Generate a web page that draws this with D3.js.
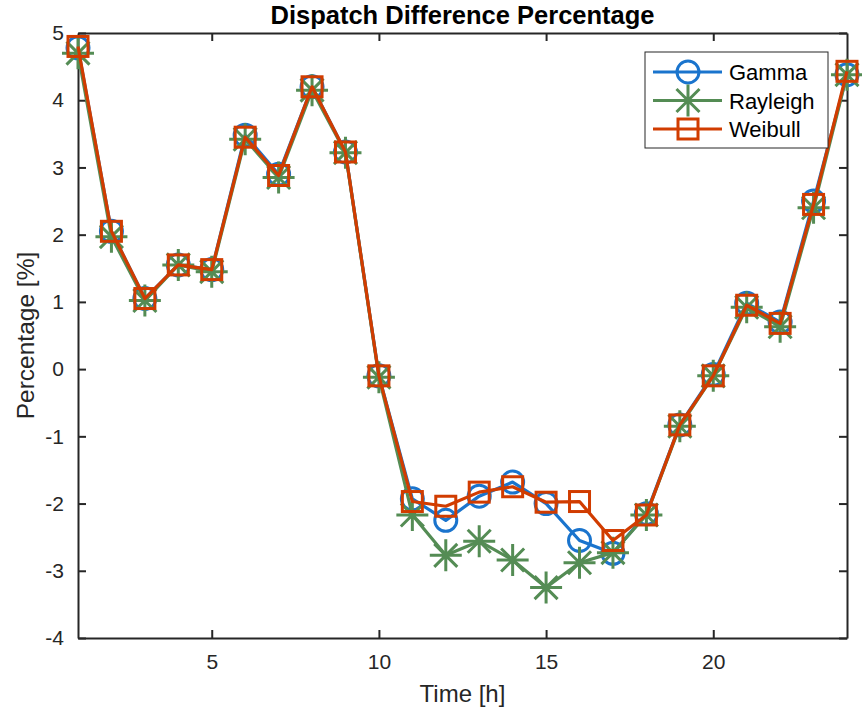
<!DOCTYPE html>
<html>
<head>
<meta charset="utf-8">
<script src="https://cdn.jsdelivr.net/npm/d3@7"></script>
<style>
  body { margin: 0; background: #fff; }
  svg { display: block; font-family: "Liberation Sans", Arial, Helvetica, sans-serif; }
</style>
</head>
<body>
<div id="chart"></div>
<script>
// hours 1..24
const hours = d3.range(1, 25);

const gamma = [4.78, 2.05, 1.05, 1.55, 1.48, 3.48, 2.9, 4.2, 3.23, -0.1,
  -1.93, -2.25, -1.89, -1.68, -2.0, -2.55, -2.74, -2.15, -0.83, -0.08,
  0.98, 0.7, 2.5, 4.38];
const rayleigh = [4.7, 1.97, 1.02, 1.55, 1.45, 3.42, 2.85, 4.15, 3.22, -0.12,
  -2.17, -2.77, -2.56, -2.84, -3.25, -2.88, -2.73, -2.17, -0.85, -0.1,
  0.92, 0.63, 2.4, 4.38];
const weibull = [4.8, 2.05, 1.05, 1.55, 1.48, 3.45, 2.88, 4.2, 3.23, -0.1,
  -1.97, -2.04, -1.83, -1.75, -1.98, -1.97, -2.55, -2.17, -0.83, -0.1,
  0.95, 0.68, 2.45, 4.43];

const xTicks = [5, 10, 15, 20];
const yTicks = [-4, -3, -2, -1, 0, 1, 2, 3, 4, 5];

const series = [
  { name: "Gamma", values: gamma, color: "#1a74cd", marker: "circle" },
  { name: "Rayleigh", values: rayleigh, color: "#548c54", marker: "star" },
  { name: "Weibull", values: weibull, color: "#d13c00", marker: "square" }
];

const W = 862, H = 715;
const margin = { top: 33, right: 15, bottom: 77, left: 78 };
const width = W - margin.left - margin.right;
const height = H - margin.top - margin.bottom;

const svg = d3.select("#chart").append("svg")
  .attr("width", W)
  .attr("height", H);

const g = svg.append("g")
  .attr("transform", `translate(${margin.left},${margin.top})`);

const x = d3.scaleLinear().domain([1, 24]).range([0, width]);
const y = d3.scaleLinear().domain([-4, 5]).range([height, 0]);

const axisColor = "#262626";
const tickLen = 8;
const plain = d => String(d); // hyphen minus like the original

// axes with inward ticks on all four sides
const xAxis = g.append("g")
  .attr("transform", `translate(0,${height})`)
  .call(d3.axisBottom(x).tickValues(xTicks).tickFormat(plain).tickSizeInner(-tickLen).tickSizeOuter(0).tickPadding(16));
const xTop = g.append("g")
  .call(d3.axisTop(x).tickValues(xTicks).tickSizeInner(-tickLen).tickSizeOuter(0).tickFormat(""));
const yAxis = g.append("g")
  .call(d3.axisLeft(y).tickValues(yTicks).tickFormat(plain).tickSizeInner(-tickLen).tickSizeOuter(0).tickPadding(14));
const yRight = g.append("g")
  .attr("transform", `translate(${width},0)`)
  .call(d3.axisRight(y).tickValues(yTicks).tickSizeInner(-tickLen).tickSizeOuter(0).tickFormat(""));

[xAxis, xTop, yAxis, yRight].forEach(a => {
  a.select(".domain").attr("stroke", axisColor).attr("stroke-width", 2);
  a.selectAll(".tick line").attr("stroke", axisColor).attr("stroke-width", 2);
  a.selectAll(".tick text").attr("fill", axisColor).style("font-size", "21px");
});

// series
const line = d3.line()
  .x((d, i) => x(hours[i]))
  .y(d => y(d));

function drawMarker(sel, type, color) {
  if (type === "circle") {
    sel.append("circle").attr("r", 11)
      .attr("fill", "none").attr("stroke", color).attr("stroke-width", 3);
  } else if (type === "square") {
    sel.append("rect").attr("x", -10).attr("y", -10).attr("width", 20).attr("height", 20)
      .attr("fill", "none").attr("stroke", color).attr("stroke-width", 3);
  } else {
    const r = 16, d = 11.5;
    const p = `M${-r},0L${r},0M0,${-r}L0,${r}M${-d},${-d}L${d},${d}M${-d},${d}L${d},${-d}`;
    sel.append("path").attr("d", p)
      .attr("fill", "none").attr("stroke", color).attr("stroke-width", 3);
  }
}

series.forEach(s => {
  const sg = g.append("g");
  sg.append("path")
    .datum(s.values)
    .attr("d", line)
    .attr("fill", "none")
    .attr("stroke", s.color)
    .attr("stroke-width", 3.2)
    .attr("stroke-linejoin", "round");
  sg.selectAll(".pt")
    .data(s.values)
    .enter().append("g")
    .attr("transform", (d, i) => `translate(${x(hours[i])},${y(d)})`)
    .each(function () { drawMarker(d3.select(this), s.marker, s.color); });
});

// title and labels
svg.append("text")
  .attr("x", margin.left + width / 2).attr("y", 24)
  .attr("text-anchor", "middle")
  .style("font-size", "25.5px").style("font-weight", "bold")
  .attr("fill", "#000")
  .text("Dispatch Difference Percentage");

svg.append("text")
  .attr("x", margin.left + width / 2).attr("y", 702)
  .attr("text-anchor", "middle")
  .style("font-size", "24px")
  .attr("fill", axisColor)
  .text("Time [h]");

svg.append("text")
  .attr("transform", `translate(34,${margin.top + height / 2}) rotate(-90)`)
  .attr("text-anchor", "middle")
  .style("font-size", "24.5px")
  .attr("fill", axisColor)
  .text("Percentage [%]");

// legend
const lg = svg.append("g").attr("transform", "translate(645,52)");
lg.append("rect")
  .attr("width", 183).attr("height", 96)
  .attr("fill", "#fff").attr("stroke", "#262626").attr("stroke-width", 1);
series.forEach((s, i) => {
  const ly = 20 + i * 28.5;
  lg.append("line")
    .attr("x1", 8).attr("x2", 77).attr("y1", ly).attr("y2", ly)
    .attr("stroke", s.color).attr("stroke-width", 3.2);
  const mg = lg.append("g").attr("transform", `translate(43,${ly})`);
  drawMarker(mg, s.marker, s.color);
  lg.append("text")
    .attr("x", 84).attr("y", ly + 8)
    .style("font-size", "22px")
    .attr("fill", "#000")
    .text(s.name);
});
</script>
</body>
</html>
